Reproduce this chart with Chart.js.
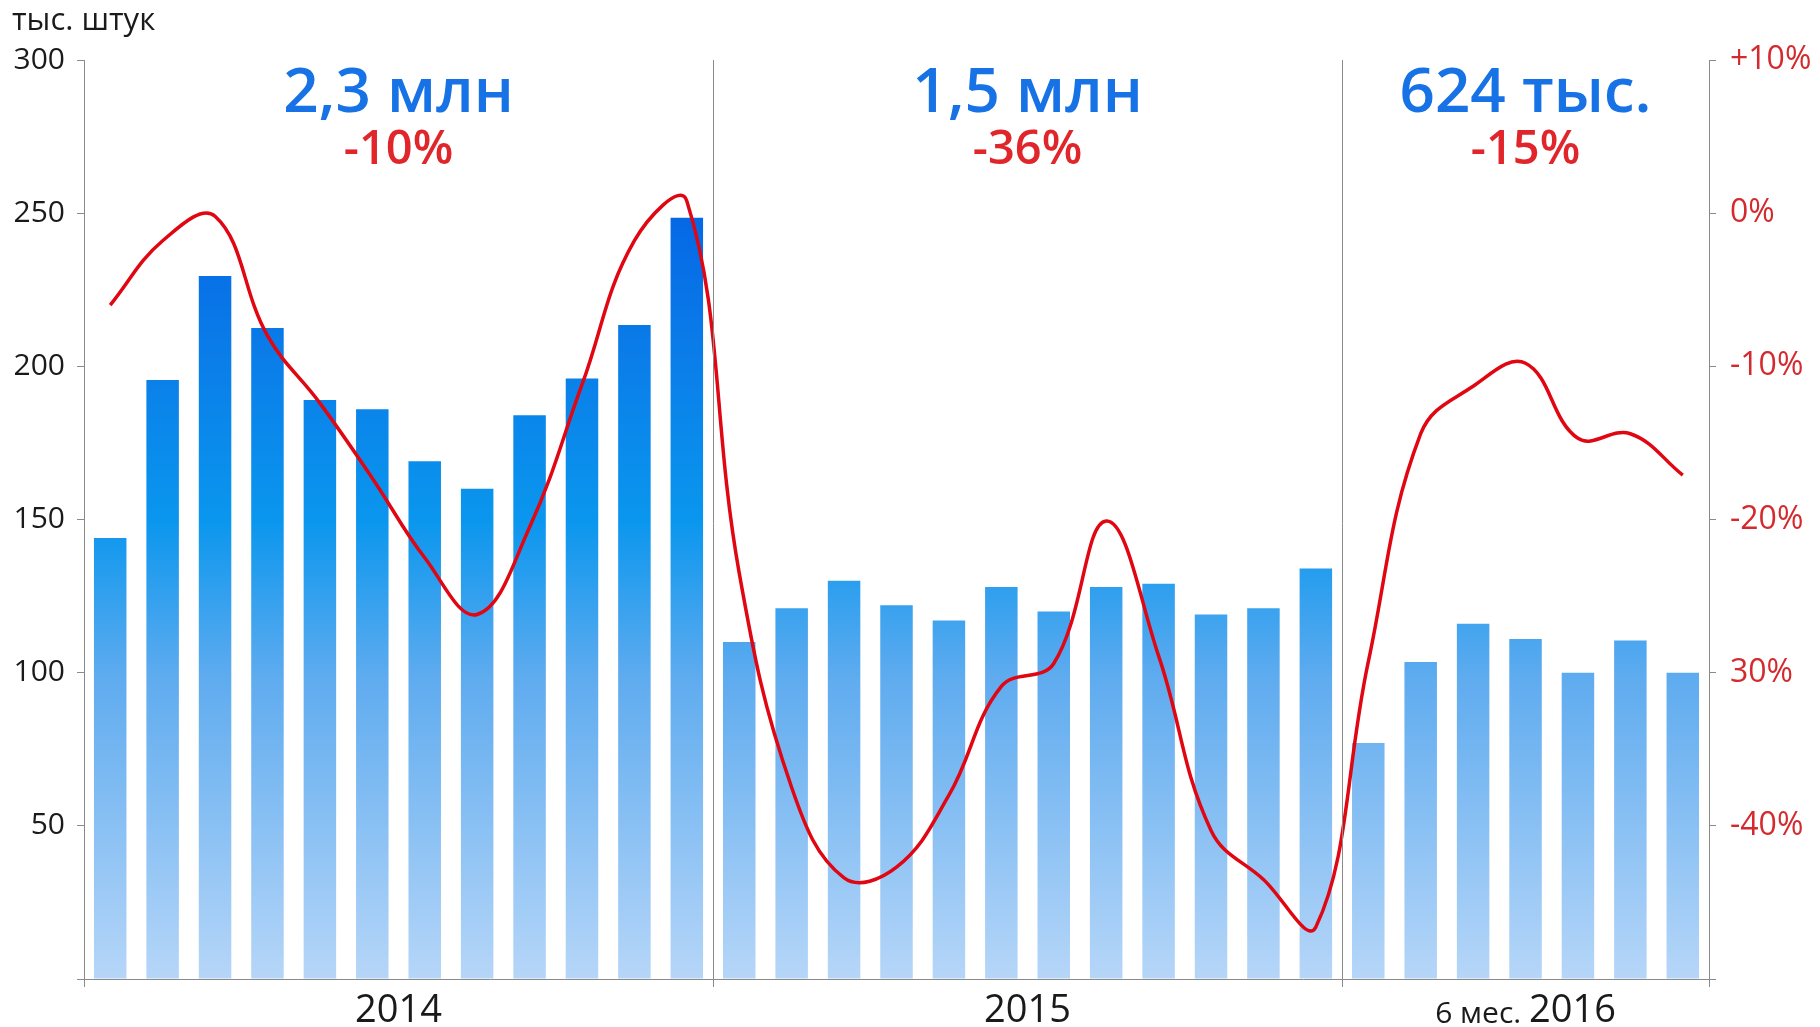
<!DOCTYPE html>
<html>
<head>
<meta charset="utf-8">
<script src="https://cdn.jsdelivr.net/npm/chart.js@4"></script>
<style>
  html, body { margin: 0; padding: 0; background: #fff; }
  #c { display: block; }
</style>
</head>
<body>
<canvas id="c" width="1820" height="1027"></canvas>
<script>
// ---------- data ----------
const sales2014 = [144, 195.5, 229.5, 212.5, 189, 186, 169, 160, 184, 196, 213.5, 248.5];
const sales2015 = [110, 121, 130, 122, 117, 128, 120, 128, 129, 119, 121, 134];
const sales2016 = [77, 103.5, 116, 111, 100, 110.5, 100];

const change2014 = [-6.0, -1.8, -0.2, -8.0, -12.4, -17.3, -22.5, -26.2, -20.5, -11.2, -1.8, 0.8];
const change2015 = [-23.5, -37.5, -43.4, -42.7, -38.0, -30.9, -29.4, -20.1, -28.9, -40.3, -43.5, -46.6];
const change2016 = [-29.3, -14.4, -11.3, -9.8, -14.7, -14.4, -17.1];

const periodNames = ['2014', '2015', '2016'];
const periodPrefix = ['', '', '6 мес. '];
const periodTotals = ['2,3 млн', '1,5 млн', '624 тыс.'];
const periodChanges = ['-10%', '-36%', '-15%'];

const leftTicks = [0, 50, 100, 150, 200, 250, 300];
const rightTickValues = [-50, -40, -30, -20, -10, 0, 10];
const rightTickLabels = ['', '-40%', '30%', '-20%', '-10%', '0%', '+10%'];
const unitLabel = 'тыс. штук';

// ---------- build ----------
const periods = [sales2014, sales2015, sales2016];
const sales = [].concat(sales2014, sales2015, sales2016);
const change = [].concat(change2014, change2015, change2016);
const labels = [];
periods.forEach((arr, p) => arr.forEach((_, i) => labels.push(periodNames[p] + '-' + (i + 1))));

const FONT = '"Open Sans", "Noto Sans", sans-serif';
const AXIS = '#8a8a8a';

function barGradient(ctx) {
  const chart = ctx.chart;
  const a = chart.chartArea;
  if (!a) return '#4aa3ef';
  const g = chart.ctx.createLinearGradient(0, a.bottom, 0, a.top);
  g.addColorStop(0.00, '#b6d6f8');
  g.addColorStop(0.33, '#5eabef');
  g.addColorStop(0.50, '#0a96ee');
  g.addColorStop(0.70, '#0a7ae8');
  g.addColorStop(0.83, '#0568e6');
  g.addColorStop(1.00, '#005fe0');
  return g;
}

const decorPlugin = {
  id: 'decor',
  afterDatasetsDraw(chart) {
    const ctx = chart.ctx;
    const a = chart.chartArea;
    const x = chart.scales.x;
    ctx.save();
    // boundaries
    let start = 0;
    const bounds = [a.left];
    periods.forEach((arr) => {
      start += arr.length;
      const px = start < labels.length
        ? (x.getPixelForValue(start - 1) + x.getPixelForValue(start)) / 2
        : a.right;
      bounds.push(px);
    });
    ctx.strokeStyle = AXIS;
    ctx.lineWidth = 1;
    bounds.forEach((bx, i) => {
      const xx = Math.round(bx) + 0.5;
      ctx.beginPath();
      const top = (i === 0 || i === bounds.length - 1) ? a.bottom : a.top;
      ctx.moveTo(xx, top);
      ctx.lineTo(xx, a.bottom + 8);
      ctx.stroke();
    });
    // texts
    ctx.textAlign = 'center';
    ctx.textBaseline = 'middle';
    for (let p = 0; p < periods.length; p++) {
      const cx = (bounds[p] + bounds[p + 1]) / 2;
      ctx.fillStyle = '#1772e6';
      ctx.font = '600 62px ' + FONT;
      ctx.fillText(periodTotals[p], cx, a.top + 34);
      ctx.fillStyle = '#e0262b';
      ctx.font = '600 47px ' + FONT;
      ctx.fillText(periodChanges[p], cx, a.top + 91);
      // period label
      ctx.fillStyle = '#1a1a1a';
      if (periodPrefix[p]) {
        ctx.font = '30px ' + FONT;
        const w1 = ctx.measureText(periodPrefix[p]).width;
        ctx.font = '38px ' + FONT;
        const w2 = ctx.measureText(periodNames[p]).width;
        const x0 = cx - (w1 + w2) / 2;
        ctx.textAlign = 'left';
        ctx.font = '30px ' + FONT;
        ctx.fillText(periodPrefix[p], x0, a.bottom + 35);
        ctx.font = '38px ' + FONT;
        ctx.fillText(periodNames[p], x0 + w1, a.bottom + 32);
        ctx.textAlign = 'center';
      } else {
        ctx.font = '38px ' + FONT;
        ctx.fillText(periodNames[p], cx, a.bottom + 32);
      }
    }
    // unit label
    ctx.textAlign = 'left';
    ctx.fillStyle = '#1a1a1a';
    ctx.font = '31px ' + FONT;
    ctx.fillText(unitLabel, 12, 21);
    ctx.restore();
  }
};

new Chart(document.getElementById('c'), {
  data: {
    labels: labels,
    datasets: [
      {
        type: 'line',
        data: change,
        yAxisID: 'y1',
        borderColor: '#e00612',
        borderWidth: 3.5,
        pointRadius: 0,
        tension: 0.4,
        fill: false,
        order: 0
      },
      {
        type: 'bar',
        data: sales,
        yAxisID: 'y',
        backgroundColor: barGradient,
        barPercentage: 0.62,
        categoryPercentage: 1.0,
        order: 1
      }
    ]
  },
  options: {
    responsive: false,
    devicePixelRatio: 1,
    animation: false,
    layout: { padding: { top: 60, left: 0, right: 0, bottom: 0 } },
    plugins: { legend: { display: false }, tooltip: { enabled: false } },
    scales: {
      x: {
        offset: true,
        ticks: { display: false },
        grid: { display: false },
        border: { display: true, color: AXIS, width: 1 },
        afterFit(s) { s.height = 48; }
      },
      y: {
        position: 'left',
        min: 0, max: 300,
        afterBuildTicks(s) { s.ticks = leftTicks.map(v => ({ value: v })); },
        ticks: {
          callback: (v) => (v === 0 ? '' : String(v)),
          color: '#1a1a1a',
          font: { family: FONT, size: 30 },
          padding: 12
        },
        grid: { drawOnChartArea: false, tickLength: 7, color: AXIS },
        border: { display: true, color: AXIS, width: 1 },
        afterFit(s) { s.width = 84; }
      },
      y1: {
        position: 'right',
        min: -50, max: 10,
        afterBuildTicks(s) { s.ticks = rightTickValues.map(v => ({ value: v })); },
        ticks: {
          callback: (v) => rightTickLabels[rightTickValues.indexOf(v)],
          color: '#d42a2e',
          font: { family: FONT, size: 32 },
          padding: 14
        },
        grid: { drawOnChartArea: false, tickLength: 7, color: AXIS },
        border: { display: true, color: AXIS, width: 1 },
        afterFit(s) { s.width = 111; }
      }
    }
  },
  plugins: [decorPlugin]
});
</script>
</body>
</html>
